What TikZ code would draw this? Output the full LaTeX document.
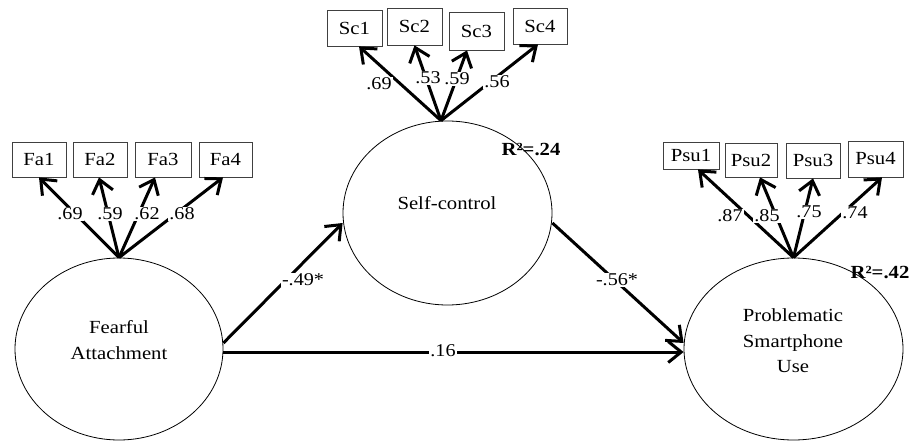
\documentclass[tikz,border=0pt]{standalone}
\usepackage{fontspec}
\setmainfont{Liberation Serif}[FakeStretch=1.12]
\usetikzlibrary{arrows.meta,shapes.geometric}
\begin{document}
\begin{tikzpicture}[x=1pt,y=-1pt,
  latent/.style={draw=black,line width=0.8pt,ellipse,inner sep=0pt},
  lattext/.style={align=center,font=\fontsize{18.5}{25.5}\selectfont,inner sep=0pt},
  obs/.style={draw=black!75,line width=0.8pt,rectangle,inner sep=0pt,font=\fontsize{18.5}{20}\selectfont},
  path/.style={line width=3pt,-{Straight Barb[length=13pt,width=21pt]}},
  lbl/.style={fill=white,inner sep=1.2pt,font=\fontsize{18}{20}\selectfont},
  rsq/.style={inner sep=0pt,font=\fontsize{18.5}{20}\selectfont\bfseries}]
\useasboundingbox (0,0) rectangle (919,441);
% latent variables
\node[latent,minimum width=208pt,minimum height=182pt] (fa) at (119,349) {};
\node[latent,minimum width=209pt,minimum height=184pt] (sc) at (447.5,213) {};
\node[latent,minimum width=219pt,minimum height=182pt] (psu) at (793.5,349) {};
\node[lattext] (fatxt) at (119,340) {Fearful\\Attachment};
\node[lattext] (sctxt) at (447,203) {Self-control};
\node[lattext] (psutxt) at (793,341) {Problematic\\Smartphone\\Use};
% indicators
\node[obs,minimum width=54pt,minimum height=35pt] (fa1) at (39,159.5) {Fa1};
\node[obs,minimum width=54pt,minimum height=35pt] (fa2) at (100,159.5) {Fa2};
\node[obs,minimum width=56pt,minimum height=35pt] (fa3) at (163,159.5) {Fa3};
\node[obs,minimum width=53pt,minimum height=35pt] (fa4) at (225.5,159.5) {Fa4};
\node[obs,minimum width=55pt,minimum height=36pt] (sc1) at (354.5,28) {Sc1};
\node[obs,minimum width=55pt,minimum height=37pt] (sc2) at (414.5,26.5) {Sc2};
\node[obs,minimum width=55pt,minimum height=38pt] (sc3) at (476.5,31) {Sc3};
\node[obs,minimum width=54pt,minimum height=36pt] (sc4) at (540,26) {Sc4};
\node[obs,minimum width=56pt,minimum height=27pt] (psu1) at (691,155.5) {Psu1};
\node[obs,minimum width=52pt,minimum height=34pt] (psu2) at (751,160) {Psu2};
\node[obs,minimum width=54pt,minimum height=35pt] (psu3) at (813,160.5) {Psu3};
\node[obs,minimum width=55pt,minimum height=36pt] (psu4) at (875.5,159) {Psu4};
% loadings
\draw[path] (fa.north) -- (fa1.south);
\draw[path] (fa.north) -- ([xshift=-1pt]fa2.south);
\draw[path] (fa.north) -- ([xshift=-8pt]fa3.south);
\draw[path] (fa.north) -- ([xshift=-2.5pt]fa4.south);
\coordinate (sctop) at ([xshift=-6.5pt]sc.north);
\draw[path] (sctop) -- ([xshift=4.5pt]sc1.south);
\draw[path] (sctop) -- (sc2.south);
\draw[path] (sctop) -- ([xshift=-9.5pt]sc3.south);
\draw[path] (sctop) -- ([xshift=-2pt]sc4.south);
\draw[path] (psu.north) -- ([xshift=7pt]psu1.south);
\draw[path] (psu.north) -- ([xshift=9pt]psu2.south);
\draw[path] (psu.north) -- (psu3.south);
\draw[path] (psu.north) -- ([xshift=6.5pt]psu4.south);
% structural paths
\draw[path] ([yshift=6pt]fa.east) -- ([yshift=-10pt]sc.west);
\draw[path] ([yshift=-10pt]sc.east) -- ([yshift=6pt]psu.west);
\draw[path] ([yshift=-3pt]fa.east) -- ([yshift=-3pt]psu.west);
% labels
\node[lbl] (l1) at (70,214) {.69};
\node[lbl] (l2) at (110,214) {.59};
\node[lbl] (l3) at (147,214) {.62};
\node[lbl] (l4) at (182,214) {.68};
\node[lbl] (l5) at (379,84) {.69};
\node[lbl] (l6) at (428,78) {.53};
\node[lbl] (l7) at (457,79) {.59};
\node[lbl] (l8) at (497,82) {.56};
\node[lbl] (l9) at (730,216) {.87};
\node[lbl] (l10) at (767,216) {.85};
\node[lbl] (l11) at (809,212) {.75};
\node[lbl] (l12) at (855,213) {.74};
\node[lbl] (b1) at (303,280) {-.49*};
\node[lbl] (b2) at (617,280) {-.56*};
\node[lbl] (b3) at (443,351) {.16};
\node[rsq] (r1) at (531,150) {R²=.24};
\node[rsq] (r2) at (880,273) {R²=.42};
\end{tikzpicture}
\end{document}
